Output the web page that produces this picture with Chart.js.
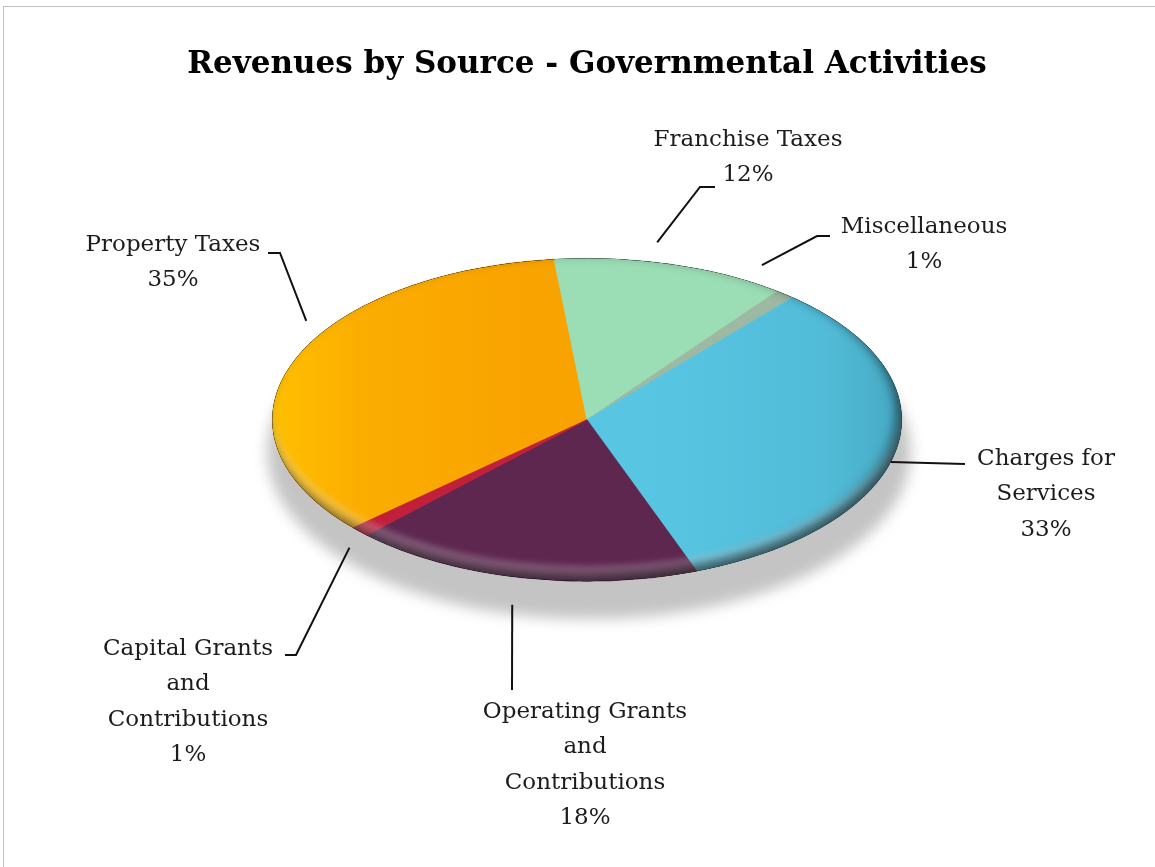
<!DOCTYPE html>
<html>
<head>
<meta charset="utf-8">
<title>Revenues by Source - Governmental Activities</title>
<script src="https://cdn.jsdelivr.net/npm/chart.js@4.4.1/dist/chart.umd.min.js"></script>
<style>
  html, body { margin: 0; padding: 0; background: #fff; }
  #wrap { position: relative; width: 1155px; height: 867px; overflow: hidden; }
  #frame { position: absolute; left: 3px; top: 6px; right: -10px; bottom: -10px; border: 1px solid #c0c0c0; }
  #revChart { position: absolute; left: 0; top: 0; }
</style>
</head>
<body>
<div id="wrap">
  <div id="frame"></div>
  <canvas id="revChart" width="1155" height="867"></canvas>
</div>
<script>
// revenue sources, clockwise from the Property Taxes slice
const categories = [
    ['Property Taxes'],
    ['Franchise Taxes'],
    ['Miscellaneous'],
    ['Charges for', 'Services'],
    ['Operating Grants', 'and', 'Contributions'],
    ['Capital Grants', 'and', 'Contributions']
];
const shares = [35, 12, 1, 33, 18, 1];
const sliceColors = ['#F9A300', '#9BDDB5', '#9DB9A1', '#58C6E3', '#5E2750', '#C21F3B'];

// label placement: first text line centre, leader elbow/tail,
// nudge (deg) and gap (px) for where the leader leaves the slice
const labelLayout = [
    { x: 173, y: 245, elbow: [280, 253], tail: [268, 253], nudge: 12, gap: 20 },
    { x: 748, y: 140, elbow: [700, 187], tail: [715, 187], nudge: -3.5, gap: 20 },
    { x: 924, y: 227, elbow: [817, 236], tail: [830, 236], nudge: -7.5, gap: 20 },
    { x: 1046, y: 459, elbow: [965, 464], tail: null, nudge: 5, gap: 0 },
    { x: 585, y: 712, elbow: [512, 690], tail: null, nudge: 0.6, gap: 28 },
    { x: 188, y: 649, elbow: [296, 655], tail: [285, 655], nudge: -1, gap: 20 }
];

const tilt = 0.513;        // vertical squash of the disc
const lineStep = 35.5;
const labelFont = '23px "DejaVu Serif"';

function sliceFill(c) {
    const i = c.dataIndex;
    const area = c.chart.chartArea;
    if (!area) return sliceColors[i];
    const ctx = c.chart.ctx;
    const r = Math.min(area.width, area.height) / 2;
    const cx = (area.left + area.right) / 2;
    if (i === 0) {
        const g = ctx.createLinearGradient(cx - r, 0, cx - r + 260, 0);
        g.addColorStop(0, '#FFC000');
        g.addColorStop(0.35, '#FBAD00');
        g.addColorStop(1, sliceColors[0]);
        return g;
    }
    if (i === 3) {
        const g = ctx.createLinearGradient(cx + r - 260, 0, cx + r, 0);
        g.addColorStop(0, sliceColors[3]);
        g.addColorStop(0.7, '#52BCD8');
        g.addColorStop(1, '#47A9C3');
        return g;
    }
    return sliceColors[i];
}

const tiltPlugin = {
    id: 'tilt',
    beforeDatasetsDraw(chart) {
        const arc = chart.getDatasetMeta(0).data[0];
        const ctx = chart.ctx;
        const x = arc.x, y = arc.y, r = arc.outerRadius;

        // soft shadow under the disc
        ctx.save();
        ctx.filter = 'blur(7px)';
        ctx.fillStyle = '#c4c4c4';
        ctx.beginPath();
        ctx.ellipse(x + 2, y + 32, r + 7, r * tilt + 6, 0, 0, Math.PI * 2);
        ctx.fill();
        ctx.restore();

        ctx.save();
        ctx.translate(x, y);
        ctx.scale(1, tilt);
        ctx.translate(-x, -y);
    },
    afterDatasetsDraw(chart) {
        const arc = chart.getDatasetMeta(0).data[0];
        const ctx = chart.ctx;
        const x = arc.x, y = arc.y, r = arc.outerRadius;

        // rounded rim: light band then dark edge along the lower side
        ctx.save();
        ctx.beginPath();
        ctx.arc(x, y, r, 0, Math.PI * 2);
        ctx.clip();
        const ring = () => {
            ctx.beginPath();
            ctx.rect(x - 3 * r, y - 3 * r, 6 * r, 6 * r);
            ctx.arc(x, y, r, 0, Math.PI * 2, true);
        };
        ctx.fillStyle = '#000';
        ctx.shadowColor = 'rgba(255,255,255,0.26)';
        ctx.shadowBlur = 6;
        ctx.shadowOffsetX = 0;
        ctx.shadowOffsetY = -15;
        ring();
        ctx.fill();
        ctx.shadowColor = 'rgba(0,0,0,0.6)';
        ctx.shadowBlur = 12;
        ctx.shadowOffsetX = -5;
        ctx.shadowOffsetY = -6;
        ring();
        ctx.fill();
        ctx.restore();

        ctx.restore();
    }
};

const calloutPlugin = {
    id: 'callouts',
    afterDraw(chart) {
        const ctx = chart.ctx;
        const meta = chart.getDatasetMeta(0);
        const total = shares.reduce((a, b) => a + b, 0);
        ctx.save();
        ctx.strokeStyle = '#111';
        ctx.lineWidth = 2;
        meta.data.forEach((arc, i) => {
            const lay = labelLayout[i];
            const a = (arc.startAngle + arc.endAngle) / 2 + lay.nudge * Math.PI / 180;
            const r = arc.outerRadius;
            const sx = arc.x + Math.cos(a) * (r + lay.gap);
            const sy = arc.y + Math.sin(a) * (r * tilt + lay.gap);
            ctx.beginPath();
            ctx.moveTo(sx, sy);
            ctx.lineTo(lay.elbow[0], lay.elbow[1]);
            if (lay.tail) ctx.lineTo(lay.tail[0], lay.tail[1]);
            ctx.stroke();

            const lines = categories[i].concat([Math.round(shares[i] / total * 100) + '%']);
            ctx.fillStyle = '#1c1c1c';
            ctx.font = labelFont;
            ctx.textAlign = 'center';
            ctx.textBaseline = 'middle';
            lines.forEach((t, k) => ctx.fillText(t, lay.x, lay.y + k * lineStep));
        });
        ctx.restore();
    }
};

new Chart(document.getElementById('revChart'), {
    type: 'pie',
    data: {
        labels: categories,
        datasets: [{
            data: shares,
            backgroundColor: sliceFill,
            borderColor: sliceFill,
            borderWidth: 1
        }]
    },
    options: {
        responsive: false,
        animation: false,
        events: [],
        rotation: -132,
        // chart area is 630px tall, so the disc radius is 315 around x = 587
        layout: { padding: { left: 20, right: 1, top: 0, bottom: 132 } },
        plugins: {
            legend: { display: false },
            tooltip: { enabled: false },
            title: {
                display: true,
                text: 'Revenues by Source - Governmental Activities',
                color: '#000',
                font: { family: 'DejaVu Serif', size: 31, weight: 'bold' },
                padding: { top: 46, bottom: 21.3 }
            }
        }
    },
    plugins: [tiltPlugin, calloutPlugin]
});
</script>
</body>
</html>
